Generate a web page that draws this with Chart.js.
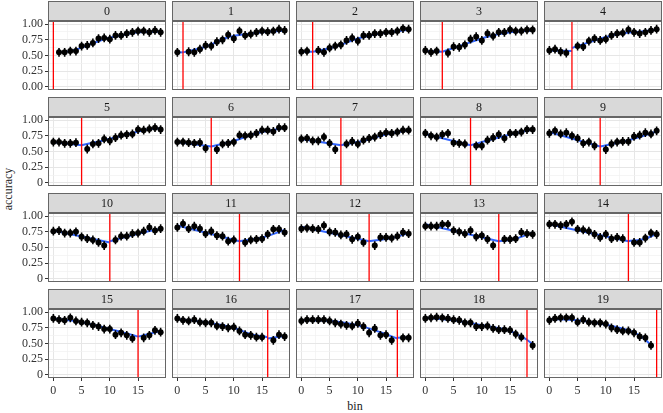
<!DOCTYPE html>
<html>
<head>
<meta charset="utf-8">
<script src="https://cdn.jsdelivr.net/npm/chart.js@4/dist/chart.umd.min.js"></script>
<style>
  body { margin: 0; background: #fff; }
  #fig { position: relative; width: 663px; height: 413px; overflow: hidden; font-family: "Liberation Serif", "DejaVu Serif", serif; }
  #fig canvas { position: absolute; }
  .lab { position: absolute; font-size: 12px; line-height: 14px; color: #1a1a1a; text-align: center; width: 100px; height: 14px; }
</style>
</head>
<body>
<div id="fig">
  <div class="lab" style="left:305px; top:399px;">bin</div>
  <div class="lab" style="left:-42px; top:182px; transform:rotate(-90deg);">accuracy</div>
</div>
<script>
// bins on the x axis and facet labels
var bins = [0, 1, 2, 3, 4, 5, 6, 7, 8, 9, 10, 11, 12, 13, 14, 15, 16, 17, 18, 19];
var panelLabels = ['0', '1', '2', '3', '4', '5', '6', '7', '8', '9', '10', '11', '12', '13', '14', '15', '16', '17', '18', '19'];

// accuracy per panel (null = the held-out bin of that panel)
var accuracy = [
  [null, 0.55, 0.55, 0.57, 0.57, 0.65, 0.66, 0.70, 0.77, 0.78, 0.76, 0.82, 0.82, 0.85, 0.87, 0.89, 0.89, 0.87, 0.90, 0.87],
  [0.55, null, 0.56, 0.55, 0.60, 0.66, 0.65, 0.72, 0.75, 0.83, 0.77, 0.89, 0.82, 0.84, 0.87, 0.89, 0.88, 0.89, 0.92, 0.90],
  [0.56, 0.57, null, 0.58, 0.55, 0.62, 0.65, 0.67, 0.74, 0.78, 0.73, 0.82, 0.82, 0.85, 0.85, 0.87, 0.87, 0.89, 0.93, 0.92],
  [0.58, 0.55, 0.57, null, 0.54, 0.64, 0.63, 0.67, 0.76, 0.80, 0.74, 0.85, 0.81, 0.87, 0.87, 0.91, 0.89, 0.89, 0.91, 0.91],
  [0.58, 0.60, 0.56, 0.54, null, 0.65, 0.64, 0.73, 0.77, 0.74, 0.76, 0.82, 0.85, 0.86, 0.91, 0.87, 0.85, 0.87, 0.90, 0.92],
  [0.65, 0.65, 0.63, 0.63, 0.64, null, 0.54, 0.62, 0.63, 0.70, 0.67, 0.72, 0.76, 0.77, 0.78, 0.85, 0.84, 0.86, 0.88, 0.85],
  [0.65, 0.65, 0.64, 0.63, 0.64, 0.55, null, 0.53, 0.62, 0.63, 0.65, 0.76, 0.75, 0.76, 0.79, 0.84, 0.84, 0.82, 0.88, 0.88],
  [0.70, 0.71, 0.67, 0.67, 0.73, 0.63, 0.53, null, 0.62, 0.66, 0.62, 0.68, 0.71, 0.73, 0.77, 0.80, 0.79, 0.81, 0.84, 0.84],
  [0.79, 0.75, 0.73, 0.77, 0.79, 0.64, 0.63, 0.62, null, 0.59, 0.59, 0.68, 0.72, 0.77, 0.71, 0.79, 0.79, 0.81, 0.85, 0.85],
  [0.79, 0.83, 0.78, 0.80, 0.75, 0.71, 0.63, 0.65, 0.59, null, 0.53, 0.62, 0.65, 0.66, 0.66, 0.74, 0.76, 0.80, 0.78, 0.83],
  [0.76, 0.77, 0.73, 0.73, 0.75, 0.67, 0.64, 0.62, 0.58, 0.53, null, 0.62, 0.68, 0.68, 0.72, 0.73, 0.76, 0.82, 0.77, 0.80],
  [0.82, 0.88, 0.80, 0.84, 0.80, 0.72, 0.76, 0.69, 0.68, 0.60, 0.62, null, 0.58, 0.62, 0.63, 0.64, 0.71, 0.79, 0.79, 0.74],
  [0.80, 0.81, 0.80, 0.79, 0.85, 0.75, 0.74, 0.70, 0.71, 0.63, 0.67, 0.58, null, 0.53, 0.66, 0.66, 0.65, 0.68, 0.74, 0.72],
  [0.84, 0.84, 0.84, 0.87, 0.87, 0.77, 0.75, 0.72, 0.77, 0.67, 0.69, 0.63, 0.53, null, 0.63, 0.63, 0.64, 0.74, 0.72, 0.71],
  [0.87, 0.87, 0.85, 0.87, 0.91, 0.79, 0.78, 0.76, 0.71, 0.66, 0.71, 0.64, 0.66, 0.64, null, 0.58, 0.58, 0.65, 0.73, 0.71],
  [0.90, 0.88, 0.87, 0.91, 0.86, 0.84, 0.83, 0.79, 0.77, 0.73, 0.73, 0.64, 0.67, 0.63, 0.58, null, 0.59, 0.63, 0.71, 0.68],
  [0.90, 0.87, 0.86, 0.88, 0.84, 0.83, 0.83, 0.78, 0.77, 0.75, 0.76, 0.70, 0.64, 0.63, 0.60, 0.60, null, 0.55, 0.64, 0.61],
  [0.86, 0.88, 0.88, 0.88, 0.88, 0.86, 0.83, 0.81, 0.79, 0.78, 0.82, 0.77, 0.67, 0.74, 0.63, 0.64, 0.55, null, 0.59, 0.59],
  [0.90, 0.91, 0.92, 0.91, 0.90, 0.88, 0.87, 0.83, 0.83, 0.77, 0.77, 0.78, 0.74, 0.72, 0.72, 0.71, 0.65, 0.60, null, 0.47],
  [0.87, 0.90, 0.91, 0.91, 0.91, 0.84, 0.88, 0.84, 0.83, 0.83, 0.81, 0.75, 0.72, 0.70, 0.70, 0.67, 0.61, 0.59, 0.47, null]
];

// fitted segments (blue), [bin, accuracy] knots left and right of the break
var fitLeft = [
  [],
  [[0, 0.55], [1, 0.55]],
  [[0, 0.56], [2, 0.56]],
  [[0, 0.57], [3, 0.56]],
  [[0, 0.58], [4, 0.57]],
  [[0, 0.65], [5, 0.60]],
  [[0, 0.65], [6, 0.58]],
  [[0, 0.70], [7, 0.60]],
  [[0, 0.78], [8, 0.60]],
  [[0, 0.81], [9, 0.58]],
  [[0, 0.77], [10, 0.58]],
  [[0, 0.85], [11, 0.60]],
  [[0, 0.83], [12, 0.60]],
  [[0, 0.87], [13, 0.60]],
  [[0, 0.87], [14, 0.60]],
  [[0, 0.90], [5, 0.84], [10, 0.73], [15, 0.61]],
  [[0, 0.89], [5, 0.84], [10, 0.75], [13, 0.65], [16, 0.60]],
  [[0, 0.87], [5, 0.86], [10, 0.79], [14, 0.68], [17, 0.58]],
  [[0, 0.91], [5, 0.87], [10, 0.79], [15, 0.70], [18, 0.56]],
  [[0, 0.89], [5, 0.87], [10, 0.80], [14, 0.71], [16, 0.63], [18, 0.48]]
];
var fitRight = [
  [[1, 0.55], [3, 0.57], [6, 0.66], [9, 0.76], [12, 0.82], [15, 0.87], [19, 0.88]],
  [[1, 0.55], [5, 0.64], [9, 0.79], [13, 0.85], [19, 0.90]],
  [[2, 0.56], [6, 0.64], [10, 0.77], [14, 0.85], [19, 0.91]],
  [[3, 0.56], [7, 0.68], [11, 0.80], [15, 0.87], [19, 0.90]],
  [[4, 0.62], [8, 0.74], [12, 0.84], [16, 0.88], [19, 0.91]],
  [[5, 0.60], [9, 0.68], [13, 0.77], [16, 0.84], [19, 0.87]],
  [[6, 0.58], [10, 0.67], [14, 0.79], [19, 0.88]],
  [[7, 0.60], [11, 0.67], [15, 0.77], [19, 0.84]],
  [[8, 0.60], [12, 0.70], [16, 0.79], [19, 0.85]],
  [[9, 0.58], [14, 0.68], [19, 0.82]],
  [[10, 0.60], [15, 0.72], [19, 0.80]],
  [[11, 0.60], [15, 0.66], [19, 0.78]],
  [[12, 0.60], [16, 0.65], [19, 0.73]],
  [[13, 0.60], [16, 0.64], [19, 0.74]],
  [[14, 0.60], [17, 0.64], [19, 0.72]],
  [[15, 0.61], [19, 0.70]],
  [[16, 0.58], [19, 0.62]],
  [[17, 0.59], [19, 0.60]],
  [[18, 0.56], [19, 0.49]],
  []
];

// tick labels
var xTickVals = [0, 5, 10, 15];
var yTickVals = [0, 0.25, 0.5, 0.75, 1];
var yTickTextTop = ['0.00', '0.25', '0.50', '0.75', '1.00'];
var yTickText = ['0', '0.25', '0.50', '0.75', '1.00'];
var errHalf = 0.07;

// grid (major + minor breaks, like ggplot)
var xBreaks = [0, 2.5, 5, 7.5, 10, 12.5, 15, 17.5];
var yBreaks = [0, 0.125, 0.25, 0.375, 0.5, 0.625, 0.75, 0.875, 1];

var colLeft = [48, 172, 296, 420, 544];
var rowTop = [1, 97, 193, 289];
var panelW = 118, stripH = 20, plotH = 69, yAxisW = 48, xAxisH = 24;
var fontFamily = '"Liberation Serif", "DejaVu Serif", serif';
var frameColor = '#666';

var facetFrame = {
  id: 'facetFrame',
  beforeDraw: function (chart, args, opts) {
    var c = chart.ctx, a = chart.chartArea;
    c.save();
    c.fillStyle = '#D9D9D9';
    c.fillRect(a.left, 0, a.right - a.left, stripH);
    c.strokeStyle = frameColor;
    c.lineWidth = 1;
    c.strokeRect(a.left + 0.5, 0.5, a.right - a.left - 1, stripH - 1);
    c.fillStyle = '#1A1A1A';
    c.font = '12px ' + fontFamily;
    c.textAlign = 'center';
    c.textBaseline = 'middle';
    c.fillText(opts.label, (a.left + a.right) / 2, stripH / 2 + 0.5);
    c.restore();
  },
  afterDraw: function (chart) {
    var c = chart.ctx, a = chart.chartArea;
    c.save();
    c.strokeStyle = frameColor;
    c.lineWidth = 1;
    c.strokeRect(a.left + 0.5, a.top + 0.5, a.right - a.left - 1, a.bottom - a.top - 1);
    c.restore();
  }
};

var fig = document.getElementById('fig');

panelLabels.forEach(function (label, k) {
  var col = k % 5, row = Math.floor(k / 5);
  var first = col === 0, bottom = row === 3;

  var canvas = document.createElement('canvas');
  var w = panelW + (first ? yAxisW : 0);
  var h = stripH + plotH + (bottom ? xAxisH : 0);
  canvas.width = w;
  canvas.height = h;
  canvas.style.left = (first ? 0 : colLeft[col]) + 'px';
  canvas.style.top = rowTop[row] + 'px';
  canvas.style.width = w + 'px';
  canvas.style.height = h + 'px';
  fig.appendChild(canvas);

  var pts = [], err = [];
  bins.forEach(function (b, i) {
    var v = accuracy[k][i];
    if (v === null) return;
    pts.push({ x: b, y: v });
    err.push({ x: b, y: v - errHalf }, { x: b, y: v + errHalf }, { x: b, y: null });
  });
  var toXY = function (arr) { return arr.map(function (p) { return { x: p[0], y: p[1] }; }); };

  var gridColor = function (major) { return major ? '#E6E6E6' : '#F0F0F0'; };

  new Chart(canvas, {
    type: 'line',
    data: {
      datasets: [
        { data: [{ x: k, y: -0.05 }, { x: k, y: 1.05 }], borderColor: '#FF0000', borderWidth: 1.3, pointRadius: 0 },
        { data: pts, showLine: false, pointRadius: 3, pointBackgroundColor: '#000', pointBorderWidth: 0 },
        { data: err, borderColor: '#000', borderWidth: 1.6, pointRadius: 0, spanGaps: false },
        { data: toXY(fitLeft[k]), borderColor: '#3366FF', borderWidth: 2, pointRadius: 0, cubicInterpolationMode: 'monotone' },
        { data: toXY(fitRight[k]), borderColor: '#3366FF', borderWidth: 2, pointRadius: 0, cubicInterpolationMode: 'monotone' }
      ]
    },
    options: {
      responsive: false,
      devicePixelRatio: 1,
      animation: false,
      events: [],
      layout: { padding: { top: stripH, left: 0, right: 0, bottom: 0 }, autoPadding: false },
      plugins: {
        legend: { display: false },
        tooltip: { enabled: false },
        facetFrame: { label: label }
      },
      scales: {
        x: {
          type: 'linear',
          min: -0.95,
          max: 19.95,
          afterBuildTicks: function (s) { s.ticks = xBreaks.map(function (v) { return { value: v }; }); },
          afterFit: function (s) {
            s.height = bottom ? xAxisH : 0;
            s.paddingLeft = 0; s.paddingRight = 0; s.paddingTop = 0; s.paddingBottom = 0;
          },
          border: { display: false },
          grid: {
            drawTicks: bottom,
            tickLength: 3,
            color: function (c) { return gridColor(xTickVals.indexOf(c.tick.value) >= 0); },
            lineWidth: function (c) { return xTickVals.indexOf(c.tick.value) >= 0 ? 1 : 0.7; },
            tickColor: function (c) { return xTickVals.indexOf(c.tick.value) >= 0 ? '#333' : 'rgba(0,0,0,0)'; }
          },
          ticks: {
            display: bottom,
            autoSkip: false,
            maxRotation: 0,
            padding: 3,
            color: '#333',
            font: { family: fontFamily, size: 12 },
            callback: function (v) { return xTickVals.indexOf(v) >= 0 ? String(v) : ''; }
          }
        },
        y: {
          min: -0.05,
          max: 1.05,
          afterBuildTicks: function (s) { s.ticks = yBreaks.map(function (v) { return { value: v }; }); },
          afterFit: function (s) {
            s.width = first ? yAxisW : 0;
            s.paddingLeft = 0; s.paddingRight = 0; s.paddingTop = 0; s.paddingBottom = 0;
          },
          border: { display: false },
          grid: {
            drawTicks: first,
            tickLength: 3,
            color: function (c) { return gridColor(yTickVals.indexOf(c.tick.value) >= 0); },
            lineWidth: function (c) { return yTickVals.indexOf(c.tick.value) >= 0 ? 1 : 0.7; },
            tickColor: function (c) { return yTickVals.indexOf(c.tick.value) >= 0 ? '#333' : 'rgba(0,0,0,0)'; }
          },
          ticks: {
            display: first,
            autoSkip: false,
            padding: 2,
            color: '#333',
            font: { family: fontFamily, size: 12 },
            callback: function (v) {
              var i = yTickVals.indexOf(v);
              if (i < 0) return '';
              return row === 0 ? yTickTextTop[i] : yTickText[i];
            }
          }
        }
      }
    },
    plugins: [facetFrame]
  });
});
</script>
</body>
</html>
